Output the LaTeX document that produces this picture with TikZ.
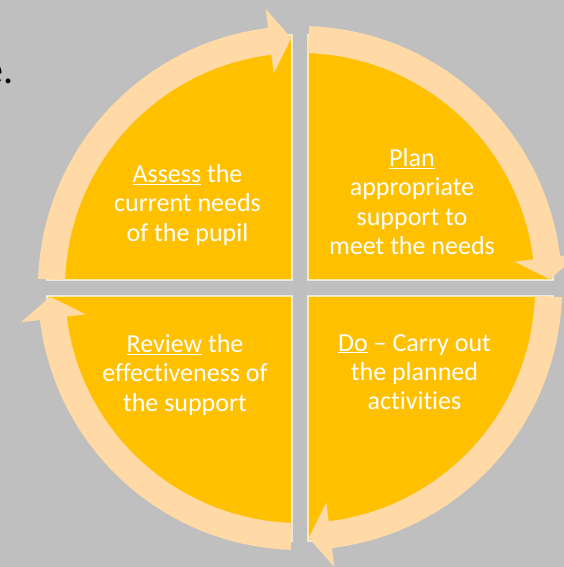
\documentclass[tikz,border=0pt]{standalone}
\usepackage{fontspec}
\setmainfont{Carlito}[Ligatures=CommonOff]
\definecolor{slidegray}{HTML}{BFBFBF}
\definecolor{segfill}{HTML}{FFC000}
\definecolor{ringfill}{HTML}{FFDAA6}
\tikzset{
  segment/.style={fill=segfill,draw=white,line width=1.2pt},
  ringarrow/.style={fill=ringfill},
  steptext/.style={text=white,align=center,inner sep=0pt,font=\fontsize{26}{29.3}\selectfont},
}
\begin{document}
\begin{tikzpicture}[x=1pt,y=1pt]

\fill[slidegray] (0,0) rectangle (564,567);
\useasboundingbox (0,0) rectangle (564,567);

\node[anchor=base east,inner sep=0pt,font=\fontsize{40}{48}\selectfont] (tail) at (13.5,483) {e.};

\filldraw[segment] (292,287) -- ++(180:245) arc (180:90:245) -- cycle;
\filldraw[segment] (308,287) -- ++(90:245) arc (90:0:245) -- cycle;
\filldraw[segment] (308,271) -- ++(0:245) arc (0:-90:245) -- cycle;
\filldraw[segment] (292,271) -- ++(-90:245) arc (-90:-180:245) -- cycle;

\begin{scope}[shift={(300,279)}]
\fill[ringarrow] (178:262) arc (178:97:262) -- (97:281) -- (92:250) -- (97:216) -- (97:235) arc (97:178:235) -- cycle;
\fill[ringarrow] (88:262) arc (88:7:262) -- (7:281) -- (2:250) -- (7:216) -- (7:235) arc (7:88:235) -- cycle;
\fill[ringarrow] (-2:262) arc (-2:-83:262) -- (-83:281) -- (-88:250) -- (-83:216) -- (-83:235) arc (-83:-2:235) -- cycle;
\fill[ringarrow] (-92:262) arc (-92:-173:262) -- (-173:281) -- (-178:250) -- (-173:216) -- (-173:235) arc (-173:-92:235) -- cycle;
\end{scope}

\node[steptext] (assess) at (187.5,362) {\underline{Assess} the\\current needs\\of the pupil};
\node[steptext] (plan) at (412,365.5) {\underline{Plan}\\appropriate\\support to\\meet the needs};
\node[steptext] (review) at (185,192) {\underline{Review} the\\effectiveness of\\the support};
\node[steptext] (do) at (414.5,195) {\underline{Do} – Carry out\\the planned\\activities};
\end{tikzpicture}
\end{document}
